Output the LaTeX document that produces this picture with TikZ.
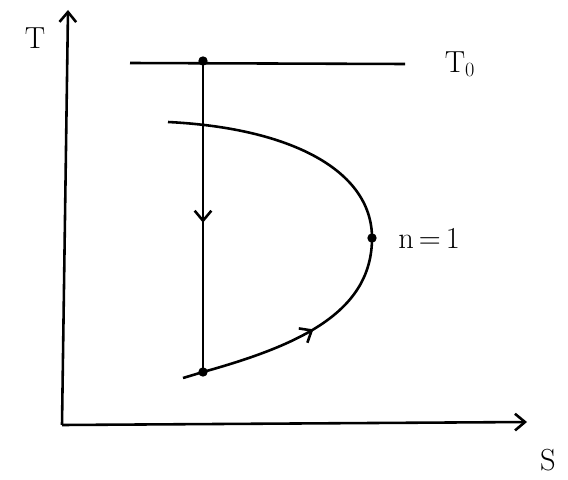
\documentclass[tikz,border=0pt]{standalone}
\usepackage{tikz}
\usetikzlibrary{positioning,arrows.meta,decorations.markings}
\tikzset{
  axis/.style={-{Straight Barb[length=3mm,width=5mm]}, line width=2.2pt},
  pth/.style={line width=2.2pt},
  dot/.style={circle, fill=black, inner sep=0pt, minimum size=8pt},
  lbl/.style={font=\fontsize{26}{30}\selectfont, inner sep=1pt},
  midarrow/.style={postaction={decorate}, decoration={markings, mark=at position #1 with {\arrow{Straight Barb[length=3mm,width=5mm,line width=2.2pt]}}}},
}
\begin{document}
\begin{tikzpicture}[x=0.03cm, y=-0.03cm]
\useasboundingbox (0,0) rectangle (568,479);
\coordinate (orig) at (62,425);
\coordinate (taxis) at (68,10);
\coordinate (saxis) at (527,422);
\coordinate (tl) at (130,63);
\coordinate (tr) at (405,64);
\coordinate (cstart) at (168,122);
\coordinate (cend) at (183,378);
\node[dot] (top) at (203,61) {};
\node[dot] (bot) at (203,372) {};
\node[dot] (nmax) at (372,238) {};
% axes
\draw[axis] (orig) -- (taxis);
\draw[axis] (orig) -- (saxis);
\node[lbl] (tlab) at (35,38) {T};
\node[lbl] (slab) at (548,460) {S};
% isotherm
\draw[pth] (tl) -- (tr);
\node[lbl] (t0lab) at (460,64) {T$_0$};
\draw[pth, midarrow=0.52] (top.center) -- (bot.center);
% curve
\draw[pth] (cstart) .. controls (290,128) and (372,170) .. (nmax.center);
\draw[pth, midarrow=0.55] (cend) -- (bot.center) .. controls (300,345) and (372,312) .. (nmax.center);
\node[lbl, right=6mm of nmax] (nlab) {n\,=\,1};
\end{tikzpicture}
\end{document}
